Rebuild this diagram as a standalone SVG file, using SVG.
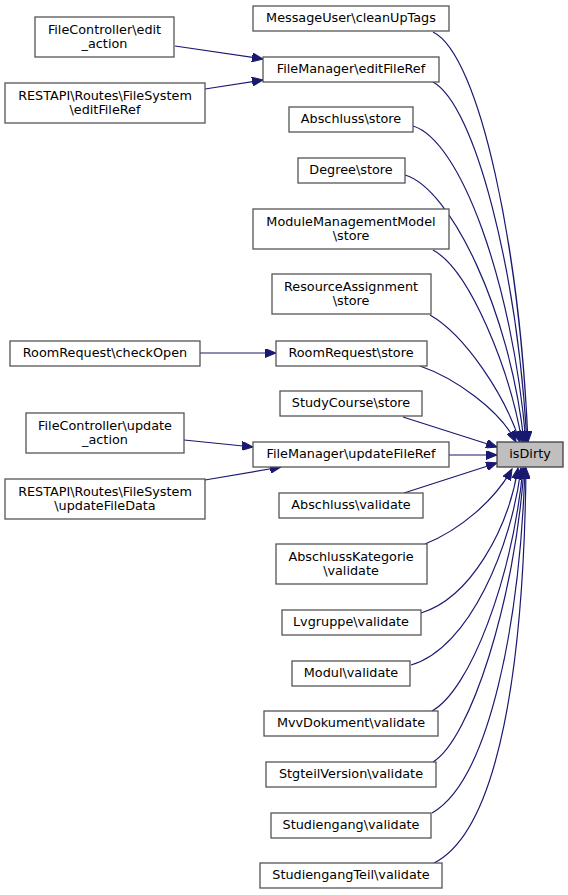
<svg xmlns="http://www.w3.org/2000/svg" width="568" height="895" viewBox="0 0 568 895">
<style>
.n rect{fill:#ffffff;stroke:#555555;stroke-width:1.3}
.n.cur rect{fill:#bfbfbf;stroke:#404040}
.n text{font-family:"DejaVu Sans",sans-serif;font-size:12.8px;fill:#000000;text-anchor:middle}
.e path{fill:none;stroke:#191970;stroke-width:1.2}
</style>
<defs>
<marker id="ah" markerUnits="userSpaceOnUse" markerWidth="12" markerHeight="9" refX="11" refY="4.5" orient="auto">
<path d="M0,0 L11,4.5 L0,9 z" fill="#191970" stroke="#191970" stroke-width="1"/>
</marker>
</defs>
<g class="e" marker-end="url(#ah)">
<path marker-end="url(#ah)" d="M433,32 C480,55 520,250 528,442"/>
<path marker-end="url(#ah)" d="M433,82 C475,105 517,270 527,442"/>
<path marker-end="url(#ah)" d="M413,126 C460,140 512,280 526,442"/>
<path marker-end="url(#ah)" d="M405,175 C450,188 510,310 524,442"/>
<path marker-end="url(#ah)" d="M433,250 C470,270 510,370 522,442"/>
<path marker-end="url(#ah)" d="M430,315 C465,335 505,395 520,442"/>
<path marker-end="url(#ah)" d="M420,366 C455,378 500,410 516,442"/>
<path marker-end="url(#ah)" d="M403,417 L497,447"/>
<path marker-end="url(#ah)" d="M449,455 L497,455"/>
<path marker-end="url(#ah)" d="M404,493 L497,463"/>
<path marker-end="url(#ah)" d="M425,544 C460,530 495,500 512,469"/>
<path marker-end="url(#ah)" d="M421,613 C470,598 508,530 518,468"/>
<path marker-end="url(#ah)" d="M411,665 C470,648 512,545 521,468"/>
<path marker-end="url(#ah)" d="M432,711 C470,690 512,580 523,468"/>
<path marker-end="url(#ah)" d="M433,762 C470,740 515,600 524,468"/>
<path marker-end="url(#ah)" d="M432,813 C490,780 520,620 525,468"/>
<path marker-end="url(#ah)" d="M434,863 C500,830 524,660 526,468"/>
<path marker-end="url(#ah)" d="M175,46 L263,59"/>
<path marker-end="url(#ah)" d="M205,89 L263,80"/>
<path marker-end="url(#ah)" d="M200,353 L276,353"/>
<path marker-end="url(#ah)" d="M184,440 L253,447"/>
<path marker-end="url(#ah)" d="M205,480 L281,467"/>
</g>
<g id="isDirty" class="n cur"><rect x="497" y="442" width="66" height="25"/><text x="530" y="458">isDirty</text></g>
<g id="cleanUpTags" class="n"><rect x="253" y="6" width="196" height="25"/><text x="351" y="22">MessageUser\cleanUpTags</text></g>
<g id="editFileRef" class="n"><rect x="263" y="57" width="176" height="25"/><text x="351" y="73">FileManager\editFileRef</text></g>
<g id="abschlussStore" class="n"><rect x="289" y="107" width="124" height="25"/><text x="351" y="123">Abschluss\store</text></g>
<g id="degreeStore" class="n"><rect x="298" y="158" width="107" height="25"/><text x="351" y="174">Degree\store</text></g>
<g id="mmmStore" class="n"><rect x="253" y="209" width="196" height="40"/><text x="351" y="225.5">ModuleManagementModel</text><text x="351" y="239.5">\store</text></g>
<g id="raStore" class="n"><rect x="272" y="274" width="159" height="40"/><text x="351" y="290.5">ResourceAssignment</text><text x="351" y="304.5">\store</text></g>
<g id="rrStore" class="n"><rect x="276" y="341" width="151" height="25"/><text x="351" y="357">RoomRequest\store</text></g>
<g id="scStore" class="n"><rect x="280" y="391" width="142" height="25"/><text x="351" y="407">StudyCourse\store</text></g>
<g id="updateFileRef" class="n"><rect x="253" y="442" width="196" height="25"/><text x="351" y="458">FileManager\updateFileRef</text></g>
<g id="abschlussValidate" class="n"><rect x="279" y="493" width="144" height="25"/><text x="351" y="509">Abschluss\validate</text></g>
<g id="akValidate" class="n"><rect x="276" y="544" width="151" height="40"/><text x="351" y="560.5">AbschlussKategorie</text><text x="351" y="574.5">\validate</text></g>
<g id="lvValidate" class="n"><rect x="282" y="610" width="139" height="25"/><text x="351" y="626">Lvgruppe\validate</text></g>
<g id="modulValidate" class="n"><rect x="292" y="661" width="118" height="25"/><text x="351" y="677">Modul\validate</text></g>
<g id="mvvValidate" class="n"><rect x="264" y="711" width="174" height="25"/><text x="351" y="727">MvvDokument\validate</text></g>
<g id="stgValidate" class="n"><rect x="266" y="762" width="170" height="25"/><text x="351" y="778">StgteilVersion\validate</text></g>
<g id="sgValidate" class="n"><rect x="271" y="813" width="160" height="25"/><text x="351" y="829">Studiengang\validate</text></g>
<g id="sgtValidate" class="n"><rect x="260" y="863" width="182" height="25"/><text x="351" y="879">StudiengangTeil\validate</text></g>
<g id="fcEdit" class="n"><rect x="35" y="17" width="139" height="40"/><text x="104.5" y="33.5">FileController\edit</text><text x="104.5" y="47.5">_action</text></g>
<g id="restEdit" class="n"><rect x="5" y="83" width="200" height="40"/><text x="105" y="99.5">RESTAPI\Routes\FileSystem</text><text x="105" y="113.5">\editFileRef</text></g>
<g id="rrCheckOpen" class="n"><rect x="10" y="341" width="190" height="25"/><text x="105" y="357">RoomRequest\checkOpen</text></g>
<g id="fcUpdate" class="n"><rect x="26" y="413" width="158" height="40"/><text x="105" y="429.5">FileController\update</text><text x="105" y="443.5">_action</text></g>
<g id="restUpdate" class="n"><rect x="5" y="479" width="200" height="40"/><text x="105" y="495.5">RESTAPI\Routes\FileSystem</text><text x="105" y="509.5">\updateFileData</text></g>
</svg>
